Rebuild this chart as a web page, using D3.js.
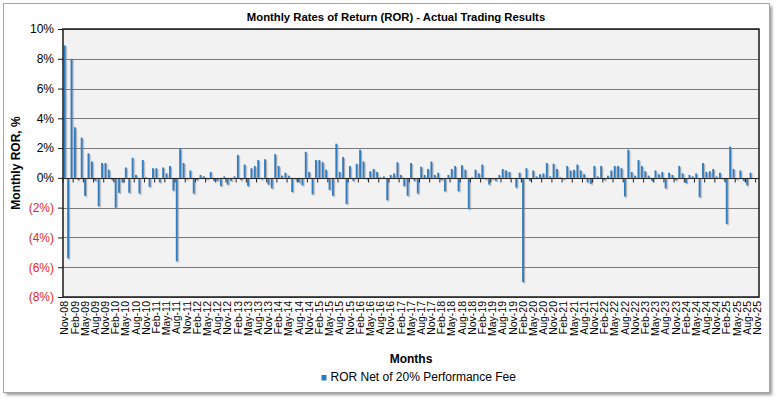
<!DOCTYPE html>
<html>
<head>
<meta charset="utf-8">
<script src="https://cdn.jsdelivr.net/npm/d3@7"></script>
<style>
  body { margin: 0; background: #fff; }
  text { font-family: Arial, "Liberation Sans", sans-serif; }
</style>
</head>
<body>
<div id="chart"></div>
<script>
// months Nov-08 .. Nov-25
var fmtMonth = d3.timeFormat("%b-%y");
var months = d3.timeMonth.range(new Date(2008, 10, 1), new Date(2025, 11, 1)).map(fmtMonth);

// monthly ROR, %
var ror = [
  8.9, -5.4, 8.0, 3.4, -0.15, 2.7, -1.2, 1.65, 1.1, -0.2, -1.9, 1.0,
  1.0, 0.55, -0.15, -2.0, -1.0, -0.3, 0.7, -1.0, 1.35, 0.2, -1.05, 1.2,
  0.05, -0.6, 0.65, 0.65, -0.3, 0.7, 0.3, 0.8, -0.85, -5.6, 2.0, 1.0,
  -0.1, 0.5, -1.05, -0.15, 0.2, 0.1, -0.1, 0.4, -0.2, -0.2, -0.55, 0.1,
  -0.45, -0.2, 0.1, 1.55, -0.15, 0.9, -0.55, 0.65, 0.8, 1.2, -0.1, 1.25,
  -0.45, -0.7, 1.6, 0.8, 0.15, 0.35, 0.15, -0.95, -0.1, -0.3, -0.5, 1.75,
  0.4, -1.1, 1.2, 1.2, 1.05, 0.55, -0.8, -1.2, 2.3, 0.4, 1.4, -1.75,
  0.8, -0.2, 0.95, 1.9, 1.1, -0.1, 0.45, 0.6, 0.4, 0.05, 0.1, -1.5,
  0.2, 0.3, 1.05, 0.2, -0.55, -1.2, 1.0, -0.2, -1.05, 0.75, 0.2, 0.6,
  1.1, 0.2, 0.35, -0.15, -0.9, 0.2, 0.6, 0.8, -0.9, 0.85, 0.55, -2.1,
  0.05, 0.55, 0.3, 0.9, -0.1, -0.45, -0.1, -0.2, 0.2, 0.6, 0.5, 0.4,
  0.0, -0.65, 0.35, -7.0, 0.65, -0.2, 0.5, 0.1, 0.25, 0.3, 1.0, 0.1,
  0.95, 0.6, 0.05, -0.1, 0.8, 0.5, 0.55, 0.9, 0.5, 0.25, -0.3, -0.4,
  0.8, 0.1, 0.8, -0.15, 0.15, 0.5, 0.8, 0.8, 0.65, -1.25, 1.9, 0.4,
  0.15, 1.2, 0.8, 0.45, 0.15, -0.2, 0.5, 0.25, 0.4, -0.7, 0.35, 0.2,
  -0.15, 0.8, 0.3, -0.35, 0.2, 0.1, 0.3, -1.3, 1.0, 0.4, 0.45, 0.6,
  0.1, 0.35, -0.1, -3.1, 2.1, 0.6, -0.1, 0.5, -0.2, -0.5, 0.35, null,
  null
];

var yTicks = [10, 8, 6, 4, 2, 0, -2, -4, -6, -8];
var xTickLabels = months.filter(function(d, i) { return i % 3 === 0; });

var W = 778, H = 402;
var plot = { left: 63, right: 759, top: 29, bottom: 297 };
var barColor = "#2f7dc0";

var svg = d3.select("#chart").append("svg")
    .attr("width", W)
    .attr("height", H);

var defs = svg.append("defs");
var sh = defs.append("filter").attr("id", "barShadow")
    .attr("x", "-50%").attr("y", "-5%").attr("width", "300%").attr("height", "115%");
sh.append("feDropShadow")
    .attr("dx", 1.2).attr("dy", 1.2).attr("stdDeviation", 0.7)
    .attr("flood-color", "#7f7f7f").attr("flood-opacity", 0.6);

var fsh = defs.append("filter").attr("id", "frameShadow")
    .attr("x", "-5%").attr("y", "-5%").attr("width", "110%").attr("height", "110%");
fsh.append("feGaussianBlur").attr("stdDeviation", 1.5);

// outer frame with shadow
svg.append("rect")
    .attr("x", 6).attr("y", 6)
    .attr("width", 766).attr("height", 389)
    .attr("fill", "#9a9a9a")
    .attr("filter", "url(#frameShadow)");
svg.append("rect")
    .attr("x", 3.5).attr("y", 3.5)
    .attr("width", 766).attr("height", 389)
    .attr("fill", "#fff")
    .attr("stroke", "#a6a6a6");

// title
svg.append("text")
    .attr("x", 396).attr("y", 21)
    .attr("text-anchor", "middle")
    .style("font-size", "11.3px")
    .style("font-weight", "bold")
    .text("Monthly Rates of Return (ROR) - Actual Trading Results");

var x = d3.scaleBand()
    .domain(months)
    .range([plot.left, plot.right])
    .paddingInner(0.45)
    .paddingOuter(0.225);

var y = d3.scaleLinear()
    .domain([-8, 10])
    .range([plot.bottom, plot.top]);

// plot area
svg.append("rect")
    .attr("x", plot.left).attr("y", plot.top)
    .attr("width", plot.right - plot.left)
    .attr("height", plot.bottom - plot.top)
    .attr("fill", "#f2f2f2");

// gridlines
svg.append("g")
    .selectAll("line")
    .data(yTicks)
    .enter().append("line")
    .attr("x1", plot.left).attr("x2", plot.right)
    .attr("y1", function(d) { return Math.round(y(d)) + 0.5; })
    .attr("y2", function(d) { return Math.round(y(d)) + 0.5; })
    .attr("stroke", "#7a7a7a")
    .attr("stroke-width", 1);

// bars
svg.append("g")
    .attr("filter", "url(#barShadow)")
    .selectAll("rect")
    .data(ror.map(function(v, i) { return { m: months[i], v: v }; })
        .filter(function(d) { return d.v !== null; }))
    .enter().append("rect")
    .attr("x", function(d) { return x(d.m); })
    .attr("width", x.bandwidth())
    .attr("y", function(d) { return y(Math.max(0, d.v)); })
    .attr("height", function(d) { return Math.abs(y(d.v) - y(0)); })
    .attr("fill", barColor);

// zero line with category ticks
var zeroY = Math.round(y(0)) + 0.5;
svg.append("line")
    .attr("x1", plot.left).attr("x2", plot.right)
    .attr("y1", zeroY).attr("y2", zeroY)
    .attr("stroke", "#262626")
    .attr("stroke-width", 1.2);

svg.append("g")
    .selectAll("line")
    .data(xTickLabels)
    .enter().append("line")
    .attr("x1", function(d) { return x(d) - x.step() * x.paddingInner() / 2; })
    .attr("x2", function(d) { return x(d) - x.step() * x.paddingInner() / 2; })
    .attr("y1", zeroY).attr("y2", zeroY + 4)
    .attr("stroke", "#262626");

// plot border
svg.append("rect")
    .attr("x", plot.left).attr("y", plot.top)
    .attr("width", plot.right - plot.left)
    .attr("height", plot.bottom - plot.top)
    .attr("fill", "none")
    .attr("stroke", "#1a1a1a")
    .attr("stroke-width", 1.5);

// y axis
var yAxis = d3.axisLeft(y)
    .tickValues(yTicks)
    .tickSize(5)
    .tickPadding(4)
    .tickFormat(function(d) { return d < 0 ? "(" + (-d) + "%)" : d + "%"; });

var gy = svg.append("g")
    .attr("transform", "translate(" + plot.left + ",0)")
    .call(yAxis);
gy.select(".domain").remove();
gy.selectAll("line").attr("stroke", "#1a1a1a");
gy.selectAll("text")
    .style("font-size", "12px")
    .attr("fill", function(d) { return d < 0 ? "#e8262a" : "#000"; });

// x axis labels
var xAxis = d3.axisBottom(x)
    .tickValues(xTickLabels)
    .tickSize(0);

var gx = svg.append("g")
    .attr("transform", "translate(0," + plot.bottom + ")")
    .call(xAxis);
gx.select(".domain").remove();
gx.selectAll("text")
    .style("font-size", "10.5px")
    .attr("fill", "#000")
    .attr("text-anchor", "end")
    .attr("transform", "rotate(-90)")
    .attr("x", -4)
    .attr("y", 0)
    .attr("dy", "0.35em");

// axis titles
svg.append("text")
    .attr("transform", "translate(20," + ((plot.top + plot.bottom) / 2) + ") rotate(-90)")
    .attr("text-anchor", "middle")
    .style("font-size", "12px")
    .style("font-weight", "bold")
    .text("Monthly ROR, %");

svg.append("text")
    .attr("x", (plot.left + plot.right) / 2).attr("y", 363)
    .attr("text-anchor", "middle")
    .style("font-size", "12px")
    .style("font-weight", "bold")
    .text("Months");

// legend
var lg = svg.append("g").attr("transform", "translate(321.5,375)");
lg.append("rect")
    .attr("width", 5).attr("height", 5.5)
    .attr("fill", barColor);
lg.append("text")
    .attr("x", 9).attr("y", 5.8)
    .style("font-size", "12px")
    .text("ROR Net of 20% Performance Fee");
</script>
</body>
</html>
